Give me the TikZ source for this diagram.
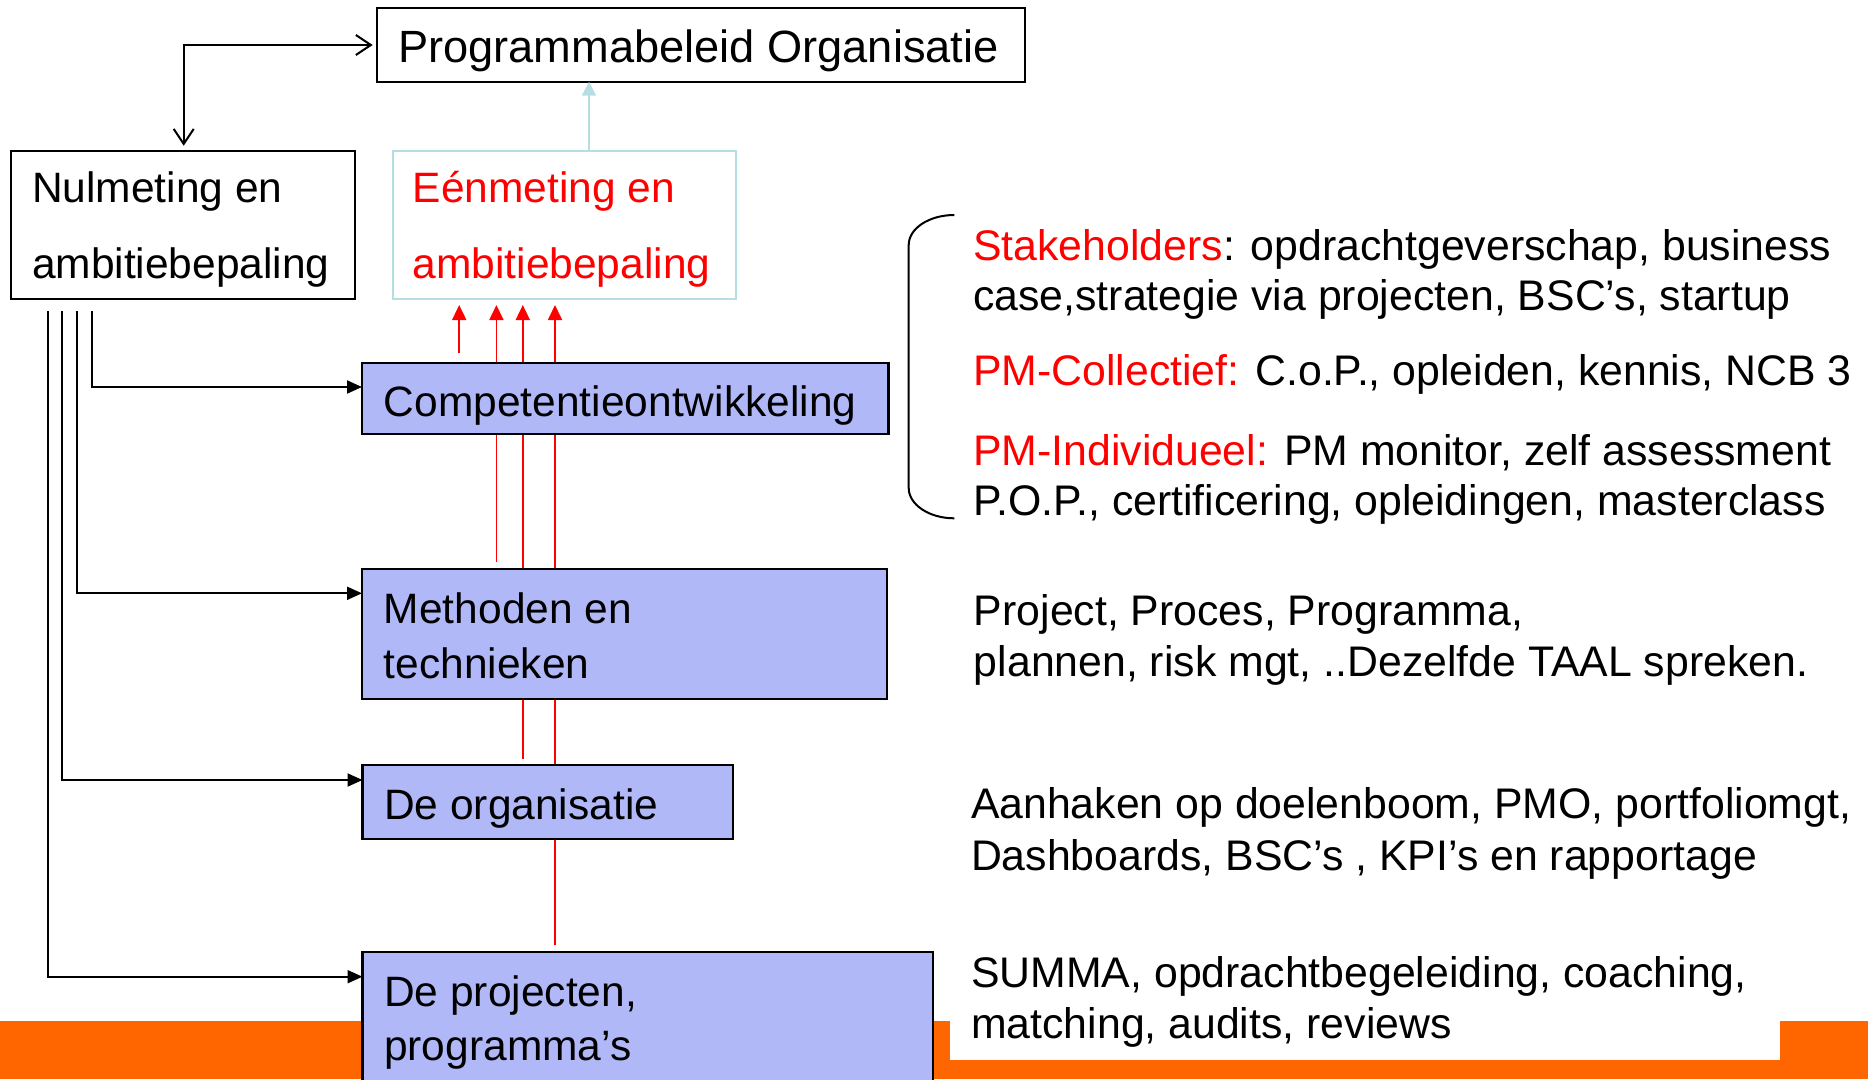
\documentclass[tikz,border=0pt]{standalone}
\usepackage{fontspec}
\setmainfont{Liberation Sans}
\usetikzlibrary{arrows.meta,calc}
\definecolor{boxfill}{RGB}{176,184,248}
\definecolor{paleblue}{RGB}{180,222,226}
\definecolor{bandorange}{RGB}{255,102,0}
\definecolor{hotred}{RGB}{255,0,0}
\pgfdeclarelayer{background}
\pgfsetlayers{background,main}
\begin{document}
\begin{tikzpicture}[x=1pt,y=-1pt,
  txt/.style={inner sep=0pt, anchor=base west, font=\fontsize{42.5}{50}\selectfont},
  note/.style={txt, font=\fontsize{42.8}{50}\selectfont},
  frame/.style={draw=black, line width=2.2pt, anchor=north west, inner sep=0pt, outer sep=0pt},
  unit/.style={frame, fill=boxfill},
  feed/.style={line width=2pt, -{Triangle[length=15pt,width=13pt]}, shorten <=12pt},
  lift/.style={draw=hotred, line width=1.8pt, -{Triangle[length=15pt,width=14pt]}, shorten >=6pt},
  barb/.tip={Straight Barb[length=15pt,width=20pt]}
]
\useasboundingbox (0,0) rectangle (1868,1079);

% orange footer band with its white text panel
\fill[bandorange] (0,1021) rectangle (1868,1079);
\fill[white] (950,1021) rectangle (1780,1060);

% boxes
\node[frame, fill=white, minimum width=648pt, minimum height=73.4pt] (prog) at (376.7,8.3) {};
\node[frame, fill=white, minimum width=343.5pt, minimum height=148.3pt] (nul) at (11.3,150.7) {};
\node[frame, draw=paleblue, fill=white, minimum width=343.4pt, minimum height=148.3pt] (een) at (392.6,150.7) {};
\node[unit, minimum width=526.5pt, minimum height=71.3pt] (comp) at (362,362.7) {};
\node[unit, minimum width=525pt, minimum height=129.4pt] (meth) at (362,569.3) {};
\node[unit, minimum width=370.5pt, minimum height=74.3pt] (org) at (362.5,765) {};
\node[unit, minimum width=570.1pt, minimum height=135pt] (proj) at (362.5,952.3) {};

% box texts
\node[txt, font=\fontsize{45.2}{50}\selectfont] (progt) at (398,62.7) {Programmabeleid Organisatie};
\node[txt] (nult1) at (31.8,202.8) {Nulmeting en};
\node[txt] (nult2) at (31.8,278.8) {ambitiebepaling};
\node[txt, text=hotred] (eent1) at (412.5,202.8) {Eénmeting en};
\node[txt, text=hotred] (eent2) at (412.5,278.8) {ambitiebepaling};
\node[txt] (compt) at (383.7,416) {Competentieontwikkeling};
\node[txt] (metht1) at (383.7,623.3) {Methoden en};
\node[txt] (metht2) at (383.7,678.3) {technieken};
\node[txt] (orgt) at (384,819.3) {De organisatie};
\node[txt] (projt1) at (384,1006) {De projecten,};
\node[txt] (projt2) at (384,1060) {programma’s};

% explanatory texts on the right
\node[note] (stake1) at (973,260) {\textcolor{hotred}{Stakeholders}: opdrachtgeverschap, business};
\node[note] (stake2) at (973,310) {case,strategie via projecten, BSC’s, startup};
\node[note] (coll) at (973,385) {\textcolor{hotred}{PM-Collectief:} C.o.P., opleiden, kennis, NCB 3};
\node[note] (ind1) at (973,465) {\textcolor{hotred}{PM-Individueel:} PM monitor, zelf assessment};
\node[note] (ind2) at (973,515) {P.O.P., certificering, opleidingen, masterclass};
\node[note] (proc1) at (973.7,625.7) {Project, Proces, Programma,};
\node[note] (proc2) at (973.7,676.7) {plannen, risk mgt, ..Dezelfde TAAL spreken.};
\node[note] (aan1) at (970.8,818.3) {Aanhaken op doelenboom, PMO, portfoliomgt,};
\node[note] (aan2) at (970.8,870.7) {Dashboards, BSC’s , KPI’s en rapportage};
\node[note] (sum1) at (971,987.7) {SUMMA, opdrachtbegeleiding, coaching,};
\node[note] (sum2) at (971,1038.3) {matching, audits, reviews};

% bracket grouping the competence topics
\draw[line width=2pt] (954.3,215) .. controls (929.1,215) and (908.7,228.4) .. (908.7,245)
  -- (908.7,488) .. controls (908.7,504.6) and (929.1,518.3) .. (954.3,518.3);

% column positions of the connectors
\coordinate (a) at (183.7,0);
\coordinate (b) at (589,0);
\coordinate (c1) at (48,0);
\coordinate (c2) at (62.3,0);
\coordinate (c3) at (77.3,0);
\coordinate (c4) at (92.3,0);
\coordinate (r1) at (459.2,0);
\coordinate (r2) at (496.4,0);
\coordinate (r3) at (522.8,0);
\coordinate (r4) at (555,0);

% two-way link between the zero measurement and the programme policy
\draw[line width=2pt, barb-barb, shorten <=5pt, shorten >=4pt] (nul.north -| a) |- (prog.west);

% feedback into the programme policy
\draw[draw=paleblue, line width=2pt, -{Triangle[length=14pt,width=14pt]}] (een.north -| b) -- (prog.south -| b);

% from the zero measurement to each domain
\draw[feed] (nul.south -| c4) |- ([yshift=-24.3pt]comp.north west);
\draw[feed] (nul.south -| c3) |- ([yshift=-24pt]meth.north west);
\draw[feed] (nul.south -| c2) |- ([yshift=-15pt]org.north west);
\draw[feed] (nul.south -| c1) |- ([yshift=-24.4pt]proj.north west);

% from each domain up to the first measurement, behind the boxes
\begin{pgfonlayer}{background}
\draw[lift, shorten <=9.7pt] (comp.north -| r1) -- (een.south -| r1);
\draw[lift, shorten <=7.6pt] (meth.north -| r2) -- (een.south -| r2);
\draw[lift, shorten <=6pt] (org.north -| r3) -- (een.south -| r3);
\draw[lift, shorten <=7.3pt] (proj.north -| r4) -- (een.south -| r4);
\end{pgfonlayer}
\end{tikzpicture}
\end{document}
